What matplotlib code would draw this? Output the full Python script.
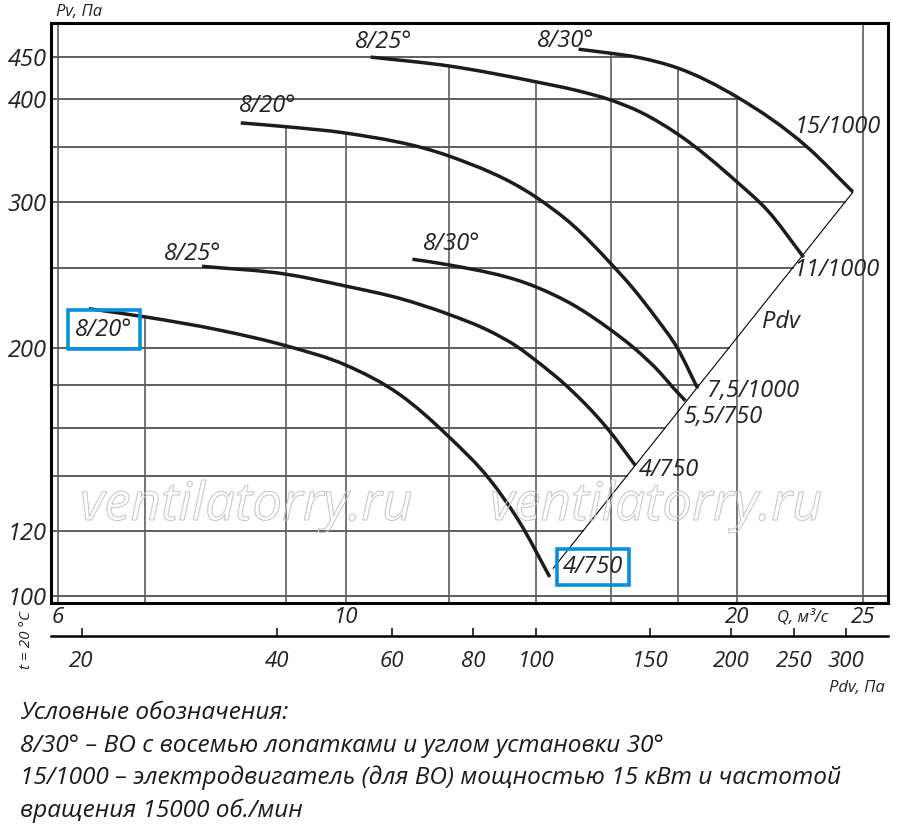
import numpy as np
import matplotlib
matplotlib.use('Agg')
import matplotlib.pyplot as plt
from matplotlib.ticker import NullLocator
from matplotlib.textpath import TextPath
from matplotlib.patches import PathPatch
from matplotlib.path import Path
from matplotlib.font_manager import FontProperties
from matplotlib.transforms import Affine2D

# --- data: Q (m3/s) and Pv (Pa) ---
# lower family (750 rpm)
q_lo20 = [6.34, 7.0, 8.0, 9.0, 10.0, 11.0, 12.0, 12.9, 13.6, 14.35]
pv_lo20 = [223, 218, 210, 201, 190.5, 175.5, 156, 138.5, 123, 105.5]
q_lo25 = [7.75, 9.0, 10.0, 11.0, 12.0, 12.9, 13.55, 14.0, 14.8, 15.9, 16.7]
pv_lo25 = [251, 245.5, 237.5, 229.5, 219.5, 209.5, 200.5, 193, 179.5, 159.5, 144]
q_lo30 = [11.25, 12.0, 14.0, 14.95, 16.0, 16.65, 17.45, 17.85, 18.25]
pv_lo30 = [256, 252, 237, 225.5, 210, 200, 186.5, 179, 172.5]
# upper family (1000 rpm)
q_up20 = [8.3, 9.0, 10.0, 12.0, 14.0, 14.95, 15.95, 16.65, 17.3, 18.0, 18.65]
pv_up20 = [374.5, 370.5, 364, 341.5, 304.5, 281.5, 254, 235.5, 218, 199.5, 178.5]
q_up25 = [10.45, 12.0, 14.0, 15.0, 16.0, 16.85, 18.0, 20.0, 21.1, 22.5]
pv_up25 = [450, 439, 420, 410.5, 399, 386, 363, 317.5, 293.5, 257.5]
q_up30 = [15.1, 15.7, 16.85, 18.0, 20.0, 22.65, 24.55]
pv_up30 = [460, 456.5, 449, 436.5, 402.5, 350, 309]

# Pdv line through the curve ends
pdv_q = [14.44, 24.56]
pdv_pv = [108.1, 308.8]

blade_labels = ['8/20°', '8/25°', '8/30°', '8/20°', '8/25°', '8/30°']
motor_labels = ['4/750', '4/750', '5,5/750', '7,5/1000', '11/1000', '15/1000']

x_grid = [6, 7, 9, 10, 12, 14, 16, 18, 20, 25]
y_grid = [100, 120, 140, 160, 180, 200, 250, 300, 350, 400, 450]
q_ticks = [6, 10, 20, 25]
pv_ticks = [100, 120, 200, 300, 400, 450]
pdv_ticks = [20, 40, 60, 80, 100, 150, 200, 250, 300]
k_pdv = 1.40  # Q = k * sqrt(Pdv)

legend_lines = [
    'Условные обозначения:',
    '8/30° – ВО с восемью лопатками и углом установки 30°',
    '15/1000 – электродвигатель (для ВО) мощностью 15 кВт и частотой',
    'вращения 15000 об./мин',
]

FONT = ['Open Sans', 'DejaVu Sans']
INK = '#222222'
BLUE = '#0a8fdc'

fig = plt.figure(figsize=(9, 8.34), dpi=100)
ax = fig.add_axes([51 / 900, 1 - 603 / 834, 837 / 900, 580 / 834])
ax.set_xscale('log')
ax.set_yscale('log')
xmin, xmax = 5.93, 26.13
ymin, ymax = 98.1, 494.9
ax.set_xlim(xmin, xmax)
ax.set_ylim(ymin, ymax)

curves = [(q_lo20, pv_lo20), (q_lo25, pv_lo25), (q_lo30, pv_lo30),
          (q_up20, pv_up20), (q_up25, pv_up25), (q_up30, pv_up30)]


def top_at(qv):
    vals = [np.exp(np.interp(np.log(qv), np.log(q), np.log(p)))
            for q, p in curves if q[0] <= qv <= q[-1]]
    return max(vals) if vals else ymax


def right_at(pv):
    if pv < pdv_pv[0]:
        return xmax
    if pv <= pdv_pv[1]:
        return np.exp(np.interp(np.log(pv), np.log(pdv_pv), np.log(pdv_q)))
    return np.exp(np.interp(np.log(pv), np.log(pv_up30[::-1]), np.log(q_up30[::-1])))


def smooth_path(q, p):
    # cubic Hermite through the read points (log space), drawn as Bezier segments
    x = np.log10(q)
    y = np.log10(p)
    h = np.diff(x)
    s = np.diff(y) / h
    m = np.empty_like(x)
    m[0], m[-1] = s[0], s[-1]
    m[1:-1] = (s[:-1] * h[1:] + s[1:] * h[:-1]) / (h[:-1] + h[1:])
    verts = [(x[0], y[0])]
    codes = [Path.MOVETO]
    for i in range(len(x) - 1):
        verts += [(x[i] + h[i] / 3, y[i] + m[i] * h[i] / 3),
                  (x[i + 1] - h[i] / 3, y[i + 1] - m[i + 1] * h[i] / 3),
                  (x[i + 1], y[i + 1])]
        codes += [Path.CURVE4] * 3
    return Path(10 ** np.array(verts), codes)


# grid, clipped to the working area of the chart
for yv in y_grid:
    ax.plot([xmin, right_at(yv)], [yv, yv], color='#333333', lw=1.1, zorder=1)
for xv in x_grid:
    ax.plot([xv, xv], [ymin, top_at(xv)], color='#5e5e5e', lw=1.2, zorder=1)

# Pdv line
ax.plot(pdv_q, pdv_pv, color='black', lw=0.8, zorder=2)
ax.text(21.6, 215, 'Pdv', fontsize=17, style='italic', family=FONT, color=INK,
        ha='center', va='center')

# curves
for q, p in curves:
    ax.add_patch(PathPatch(smooth_path(q, p), transform=ax.transData, fc='none',
                           ec='#1c1c1c', lw=2.5, capstyle='butt', zorder=3))

# labels at curve starts (blade angle) and ends (motor)
start_off = [(11, -15), (-7, 9), (28, 11), (19, 12), (9, 11), (-9, 6)]
end_off = [(31, 7), (24, -3), (27, -12), (40, -2), (24, -9), (-11, 47)]
for i, (q, p) in enumerate(curves):
    bb = None
    if i == 0:
        bb = dict(boxstyle='square,pad=0.3', fc='none', ec=BLUE, lw=2.6)
    ax.annotate(blade_labels[i], (q[0], p[0]), xytext=start_off[i],
                textcoords='offset points', ha='center', va='center',
                fontsize=17, style='italic', family=FONT, color=INK, bbox=bb, zorder=4)
    bb = None
    if i == 0:
        bb = dict(boxstyle='square,pad=0.25', fc='none', ec=BLUE, lw=2.6)
    ax.annotate(motor_labels[i], (q[-1], p[-1]), xytext=end_off[i],
                textcoords='offset points', ha='center', va='center',
                fontsize=17, style='italic', family=FONT, color=INK, bbox=bb, zorder=4)

# axes styling
for s in ax.spines.values():
    s.set_linewidth(2.2)
ax.set_xticks(q_ticks, labels=[str(v) for v in q_ticks], fontsize=16,
              style='italic', family=FONT, color=INK)
ax.set_yticks(pv_ticks, labels=[str(v) for v in pv_ticks], fontsize=17,
              style='italic', family=FONT, color=INK)
ax.xaxis.set_minor_locator(NullLocator())
ax.yaxis.set_minor_locator(NullLocator())
ax.tick_params(axis='x', length=0, pad=3)
ax.tick_params(axis='y', length=0, pad=3)

# Pdv scale under the Q axis
secax = ax.secondary_xaxis(-0.057, functions=(lambda q: (q / k_pdv) ** 2,
                                               lambda p: k_pdv * np.sqrt(np.maximum(p, 1e-9))))
secax.set_xticks(pdv_ticks, labels=[str(v) for v in pdv_ticks], fontsize=16,
                 style='italic', family=FONT, color=INK)
secax.xaxis.set_minor_locator(NullLocator())
secax.tick_params(direction='in', length=6, width=1.1, pad=11)
secax.spines['bottom'].set_linewidth(1.8)

# axis captions
fig.text(56 / 900, 1 - 12 / 834, 'Pv, Па', fontsize=12, style='italic', family=FONT,
         color=INK, ha='left', va='center')
fig.text(803 / 900, 1 - 617 / 834, 'Q, м³/с', fontsize=12, style='italic', family=FONT,
         color=INK, ha='center', va='center')
fig.text(885 / 900, 1 - 688 / 834, 'Pdv, Па', fontsize=12, style='italic', family=FONT,
         color=INK, ha='right', va='center')
fig.text(27 / 900, 1 - 640 / 834, 't = 20 °C', fontsize=11, style='italic', family=FONT,
         color=INK, ha='center', va='center', rotation=90)

# watermark, outlined text
wm_font = FontProperties(family='Open Sans', style='italic')
for x0 in [80, 490]:
    tp = TextPath((0, 0), 'ventilatorry.ru', size=38, prop=wm_font)
    tr = Affine2D().scale(1 / 72).translate(x0 / 100, (834 - 520) / 100) + fig.dpi_scale_trans
    fig.add_artist(PathPatch(tp, transform=tr, fc='none', ec='#c9c9c9', lw=0.8, zorder=5))

# legend text
for i, line in enumerate(legend_lines):
    fig.text(20 / 900, 1 - (713 + 32.5 * i) / 834, line, fontsize=17.6, style='italic',
             family=FONT, color='#1a1a1a', ha='left', va='center')

fig.savefig('out.png', dpi=100, facecolor='white')
